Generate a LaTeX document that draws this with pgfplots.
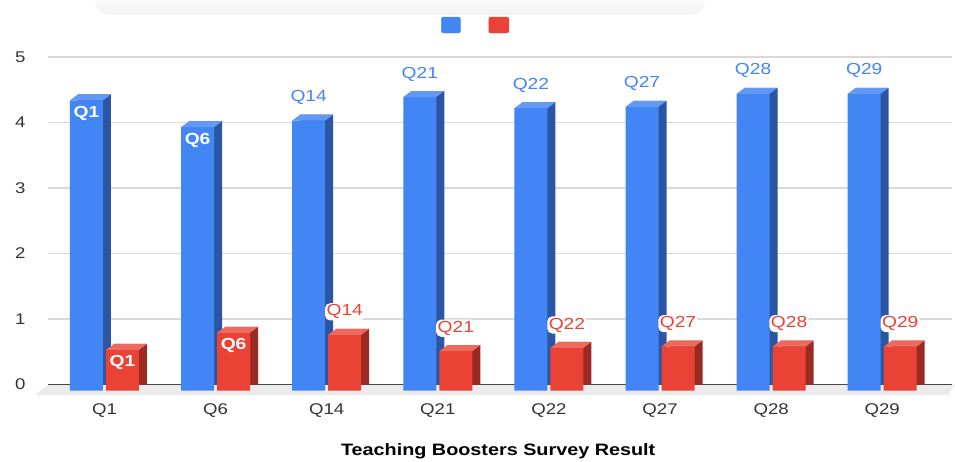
\documentclass[border=0pt]{standalone}
\usepackage{pgfplots}
\usepackage{pgfplotstable}
\pgfplotsset{compat=1.18}
\usepackage{fontspec}
\setmainfont{Liberation Sans}[FakeStretch=1.2]
\definecolor{bfront}{HTML}{4285F4}
\definecolor{bside}{HTML}{2B56A3}
\definecolor{btop}{HTML}{6199F5}
\definecolor{rfront}{HTML}{EA4335}
\definecolor{rside}{HTML}{9B2A22}
\definecolor{rtop}{HTML}{EE6A5E}
\definecolor{gridc}{HTML}{D9D9D9}
\definecolor{floorc}{HTML}{EBEBEB}
\definecolor{tickc}{HTML}{333333}
\definecolor{bandc}{HTML}{F3F3F3}

\pgfdeclareplotmark{topB}{%
 \pgfpathmoveto{\pgfpoint{-34.5pt}{0pt}}%
 \pgfpathlineto{\pgfpoint{-1.5pt}{0pt}}%
 \pgfpathlineto{\pgfpoint{6.5pt}{6pt}}%
 \pgfpathlineto{\pgfpoint{-26.5pt}{6pt}}%
 \pgfpathclose\pgfusepathqfill}
\pgfdeclareplotmark{topR}{%
 \pgfpathmoveto{\pgfpoint{1.5pt}{0pt}}%
 \pgfpathlineto{\pgfpoint{34.5pt}{0pt}}%
 \pgfpathlineto{\pgfpoint{42.5pt}{6pt}}%
 \pgfpathlineto{\pgfpoint{9.5pt}{6pt}}%
 \pgfpathclose\pgfusepathqfill}

\pgfplotstableread{
x mean sd
0 4.43 0.62
1 4.02 0.88
2 4.12 0.85
3 4.48 0.60
4 4.31 0.65
5 4.33 0.67
6 4.53 0.67
7 4.53 0.67
}\data

\begin{document}
\begin{tikzpicture}
\begin{axis}[
  scale only axis, width=904pt, height=327.5pt,
  xmin=-0.5085, xmax=7.628, ymin=0, ymax=5,
  clip=false,
  axis line style={draw=none},
  major tick length=0pt,
  ytick={0,1,2,3,4,5},
  xtick={0,...,7},
  xticklabels={Q1,Q6,Q14,Q21,Q22,Q27,Q28,Q29},
  /pgf/number format/assume math mode=true,
  ymajorgrids, grid style={gridc, line width=1.2pt},
  ticklabel style={font=\fontsize{15.5}{16}\selectfont, text=tickc},
  yticklabel style={xshift=-19pt},
  xticklabel style={yshift=-16pt},
  xlabel={\bfseries Teaching Boosters Survey Result},
  xlabel style={at={(axis description cs:0.498,0)}, anchor=center, yshift=-66.5pt, font=\fontsize{16.5}{17}\selectfont},
  legend columns=2,
  legend style={draw=none, fill=none, at={(0.473,1.0977)}, anchor=center, inner sep=0pt,
    nodes={inner sep=0pt}, /tikz/every even column/.append style={column sep=27pt}},
]
% floor and zero line
\fill[floorc] (axis cs:-0.5085,0) -- ([xshift=3pt]axis cs:7.628,0) -- ([xshift=-4pt,yshift=-10.5pt]axis cs:7.628,0) -- ([xshift=-13pt,yshift=-10.5pt]axis cs:-0.5085,0) -- cycle;
\draw[tickc!90, line width=1.3pt] (axis cs:-0.5085,0) -- (axis cs:7.628,0);
\shade[top color=white, bottom color=bandc, rounded corners=14pt] ([xshift=47pt,yshift=42pt]rel axis cs:0,1) rectangle ([xshift=657pt,yshift=70pt]rel axis cs:0,1);
\coordinate (SW) at (rel axis cs:0,0);
\coordinate (NE) at (rel axis cs:1,1);

\addlegendimage{legend image code/.code={\fill[bfront, rounded corners=2pt] (0pt,-8pt) rectangle (19pt,8pt);}}
\addlegendentry{\mbox{}}
\addlegendimage{legend image code/.code={\fill[rfront, rounded corners=2pt] (0pt,-8pt) rectangle (20pt,8pt);}}
\addlegendentry{\mbox{}}

% blue series (mean)
\addplot[ybar, bar width=33pt, bar shift=-10pt, fill=bside, draw=none, forget plot] table[x=x, y=mean] {\data};
\addplot[ybar, bar width=33pt, bar shift=-18pt, fill=bfront, draw=none, yshift=-6pt, forget plot] table[x=x, y=mean] {\data};
\addplot[only marks, mark=topB, color=btop, yshift=-6pt, forget plot] table[x=x, y=mean] {\data};
% red series (sd)
\addplot[ybar, bar width=33pt, bar shift=26pt, fill=rside, draw=none, forget plot] table[x=x, y=sd] {\data};
\addplot[ybar, bar width=33pt, bar shift=18pt, fill=rfront, draw=none, yshift=-6pt, forget plot] table[x=x, y=sd] {\data};
\addplot[only marks, mark=topR, color=rtop, yshift=-6pt, forget plot] table[x=x, y=sd] {\data};

% labels
\addplot[draw=none, mark=none, forget plot, nodes near coords, point meta=explicit symbolic,
  nodes near coords style={anchor=center, xshift=-18pt, yshift=-19pt, text=white, font=\fontsize{16}{17}\selectfont\bfseries}]
  coordinates {(0,4.43)[Q1] (1,4.02)[Q6]};
\addplot[draw=none, mark=none, forget plot, nodes near coords, point meta=explicit symbolic,
  nodes near coords style={anchor=center, xshift=-18pt, yshift=17pt, text=bfront, font=\fontsize{16}{17}\selectfont}]
  coordinates {(2,4.12)[Q14] (3,4.48)[Q21] (4,4.31)[Q22] (5,4.33)[Q27] (6,4.53)[Q28] (7,4.53)[Q29]};
\addplot[draw=none, mark=none, forget plot, nodes near coords, point meta=explicit symbolic,
  nodes near coords style={anchor=center, xshift=18pt, yshift=-19pt, text=white, font=\fontsize{16}{17}\selectfont\bfseries}]
  coordinates {(0,0.62)[Q1] (1,0.88)[Q6]};
\addplot[draw=none, mark=none, forget plot, nodes near coords, point meta=explicit symbolic,
  nodes near coords style={anchor=center, xshift=18pt, yshift=17pt, text=rfront, fill=white, rounded corners=5pt, inner sep=1.5pt, font=\fontsize{16}{17}\selectfont}]
  coordinates {(2,0.85)[Q14] (3,0.60)[Q21] (4,0.65)[Q22] (5,0.67)[Q27] (6,0.67)[Q28] (7,0.67)[Q29]};
\end{axis}
\pgfresetboundingbox
\path[use as bounding box] ([shift={(-48pt,-76.5pt)}]SW) rectangle ([shift={(3pt,57pt)}]NE);
\end{tikzpicture}
\end{document}
